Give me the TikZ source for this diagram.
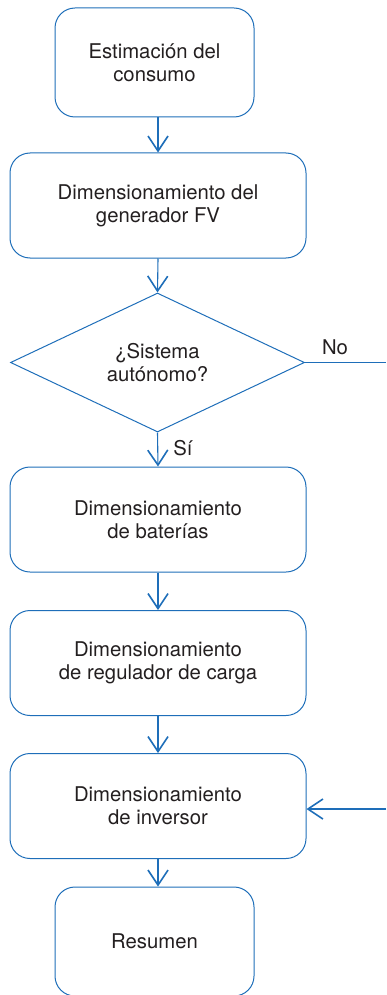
\documentclass[tikz,border=0pt]{standalone}
\usepackage{fontspec}
\setmainfont{TeX Gyre Heros}
\usetikzlibrary{arrows.meta,shapes.geometric,calc}
\definecolor{lineblue}{RGB}{30,110,185}
\definecolor{txtgray}{RGB}{35,31,32}
\tikzset{
  box/.style={draw=lineblue, line width=1pt, rounded corners=20pt, inner sep=0pt,
    align=center, text=txtgray, font=\fontsize{20.3}{23}\selectfont},
  bigbox/.style={box, minimum width=296pt, minimum height=105pt},
  smallbox/.style={box, minimum width=199pt, minimum height=109pt},
  arr/.style={draw=lineblue, line width=1.1pt,
    -{Straight Barb[length=15pt,width=20pt,line width=1.6pt]}},
  lbl/.style={text=txtgray, font=\fontsize{20.3}{23}\selectfont, inner sep=0pt}
}
\begin{document}
\begin{tikzpicture}[x=1pt,y=-1pt]
\useasboundingbox (0,0) rectangle (386,995);
\clip (0,0) rectangle (386,995);
\node[smallbox] (b1) at (154.5,62.5) {Estimación del\\consumo};
\node[bigbox] (b2) at (158,205.5) {Dimensionamiento del\\generador FV};
\node[diamond, draw=lineblue, line width=1pt, aspect=2.115, minimum width=294pt,
  minimum height=139pt, inner sep=0pt, align=center, text=txtgray,
  font=\fontsize{20.3}{23}\selectfont] (d) at (157.5,362.5) {¿Sistema\\autónomo?};
\node[bigbox] (b3) at (158,519.5) {Dimensionamiento\\de baterías};
\node[bigbox] (b4) at (158,663) {Dimensionamiento\\de regulador de carga};
\node[bigbox] (b5) at (158,806) {Dimensionamiento\\de inversor};
\node[smallbox] (b6) at (154.5,941.5) {Resumen};
\coordinate (noend) at (386,0);
\coordinate (inend) at (386,809);
\draw[arr] (b1.south -| b2.north) -- (b2.north);
\draw[arr] (b2.south) -- (d.north);
\draw[arr] (d.south) -- (b3.north);
\draw[arr] (b3.south) -- (b4.north);
\draw[arr] (b4.south) -- (b5.north);
\draw[arr] (b5.south) -- (b6.north -| b5.south);
\draw[draw=lineblue, line width=1pt] (d.east) -- (d.east -| noend);
\draw[arr] (inend) -- (inend -| b5.east);
\node[lbl] (no) at (335,347) {No};
\node[lbl] (si) at (183,448) {Sí};
\end{tikzpicture}
\end{document}
